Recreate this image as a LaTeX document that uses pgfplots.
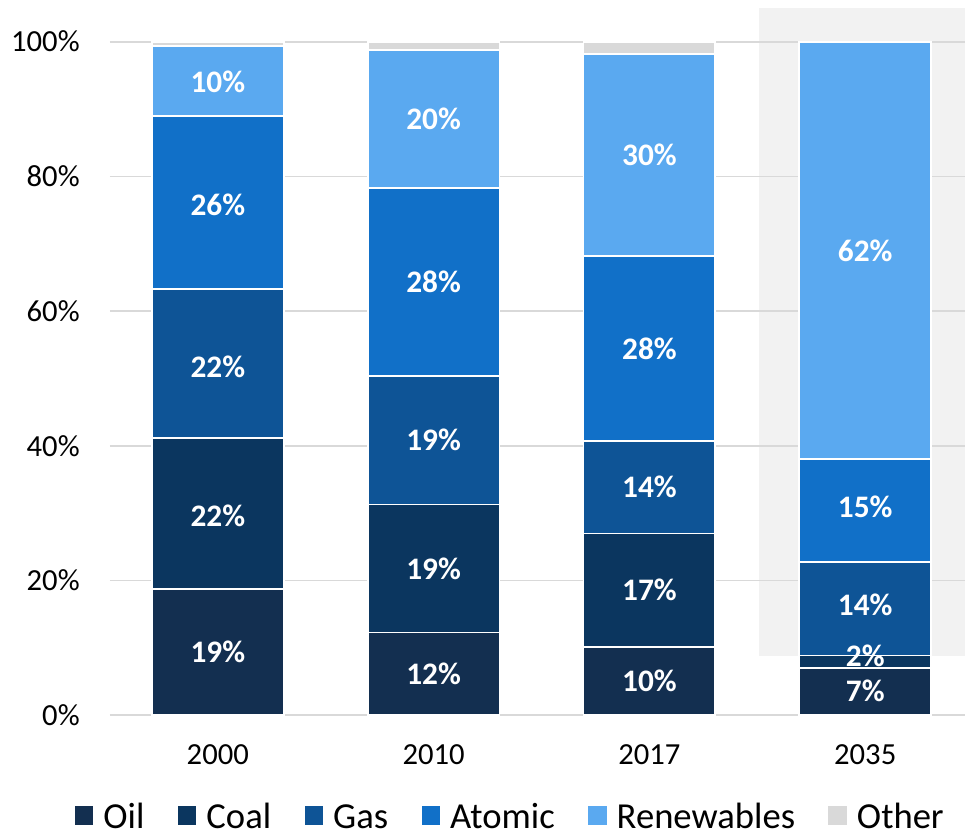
\documentclass[border=0pt]{standalone}
\usepackage{fontspec}
\setmainfont{Carlito}
\usepackage{pgfplots}
\pgfplotsset{compat=1.18}
\usepackage{pgfplotstable}
\definecolor{cOil}{HTML}{132F50}
\definecolor{cCoal}{HTML}{0B365F}
\definecolor{cGas}{HTML}{0E5496}
\definecolor{cAtomic}{HTML}{1170C8}
\definecolor{cRen}{HTML}{5AA9F0}
\definecolor{cOther}{HTML}{D9D9D9}
\definecolor{cBg}{HTML}{F2F2F2}
\definecolor{cGrid}{HTML}{D9D9D9}

\pgfplotstableread{
x oil coal gas atomic ren other
0 18.8 22.4 22.1 25.7 10.4 0.6
1 12.3 19.0 19.1 27.9 20.5 1.2
2 10.2 16.8 13.7 27.5 30.0 1.8
3 7.0 1.9 13.9 15.2 62.0 0.0
}\shares

\pgfplotstableread{
x y label
0 9.4 19
0 29.6 22
0 51.8 22
0 75.8 26
0 94.0 10
1 6.15 12
1 21.8 19
1 40.85 19
1 64.35 28
1 88.55 20
2 5.1 10
2 18.6 17
2 33.85 14
2 54.45 28
2 83.2 30
3 3.6 7
3 8.8 2
3 16.35 14
3 30.9 15
3 69.0 62
}\labels

\begin{document}
\begin{tikzpicture}
\begin{axis}[
  at={(82.5pt,91.5pt)}, anchor=south west,
  scale only axis, width=642pt, height=531pt,
  xmin=-0.5, xmax=3.463, ymin=0, ymax=105,
  hide axis,
]
\fill[cBg] (axis cs:2.51,8.75) rectangle (axis cs:3.463,105);
\end{axis}
\begin{axis}[
  at={(82.5pt,91.5pt)}, anchor=south west,
  scale only axis, width=642pt, height=531pt,
  xmin=-0.5, xmax=3.463, ymin=0, ymax=105,
  ybar stacked, bar width=0.611,
  axis line style={draw=none},
  tick style={draw=none},
  ymajorgrids, grid style={cGrid, line width=1.3pt},
  xtick={0,1,2,3}, xticklabels={2000,2010,2017,2035},
  ytick={0,20,40,60,80,100},
  yticklabels={0\%,20\%,40\%,60\%,80\%,100\%},
  tick label style={font=\fontsize{23}{27}\selectfont, inner sep=0pt},
  xticklabel shift=21.5pt,
  yticklabel shift=22.5pt,
  legend columns=6,
  legend style={draw=none, fill=none, at={(0.467,0)}, anchor=center, yshift=-76.5pt,
    font=\fontsize{27.5}{32}\selectfont, nodes={inner sep=0pt},
    /tikz/every odd column/.append style={column sep=7.5pt},
    /tikz/every even column/.append style={column sep=25pt}},
  legend image code/.code={\fill[#1,draw=none] (0pt,-5.5pt) rectangle (14pt,8.5pt);},
  every axis plot/.append style={draw=white, line width=1.3pt},
]
\addplot[fill=cOil] table[x=x,y=oil]{\shares};
\addlegendentry{Oil}
\addplot[fill=cCoal] table[x=x,y=coal]{\shares};
\addlegendentry{Coal}
\addplot[fill=cGas] table[x=x,y=gas]{\shares};
\addlegendentry{Gas}
\addplot[fill=cAtomic] table[x=x,y=atomic]{\shares};
\addlegendentry{Atomic}
\addplot[fill=cRen] table[x=x,y=ren]{\shares};
\addlegendentry{Renewables}
\addplot[fill=cOther] table[x=x,y=other]{\shares};
\addlegendentry{Other}
\end{axis}
\begin{axis}[
  at={(82.5pt,91.5pt)}, anchor=south west,
  scale only axis, width=642pt, height=531pt,
  xmin=-0.5, xmax=3.463, ymin=0, ymax=105,
  hide axis, clip=false,
]
\addplot[only marks, mark=none, point meta=explicit symbolic,
  nodes near coords={\pgfplotspointmeta\%},
  nodes near coords align={center},
  every node near coord/.append style={font=\bfseries\fontsize{23.5}{27}\selectfont, text=white, inner sep=0pt}]
  table[x=x,y=y,meta=label]{\labels};
\end{axis}
\path (0pt,0pt) rectangle (724.5pt,628.5pt);
\end{tikzpicture}
\end{document}
